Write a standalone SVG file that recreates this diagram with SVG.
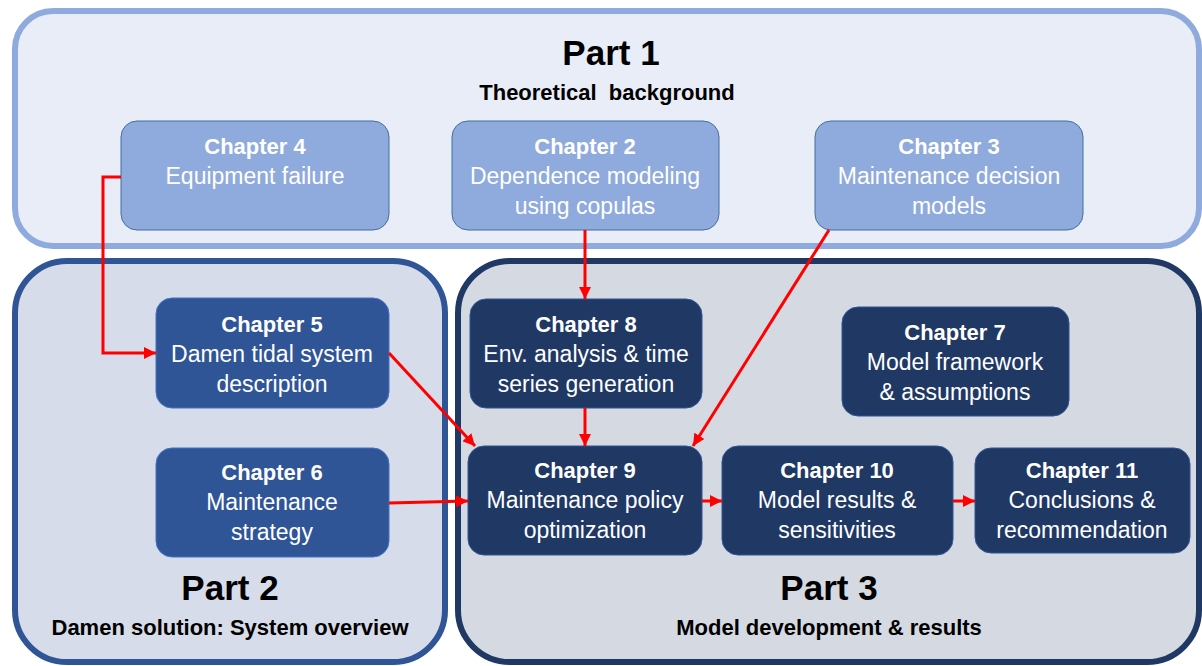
<svg xmlns="http://www.w3.org/2000/svg" width="1202" height="666" viewBox="0 0 1202 666">
<style>
text{font-family:"Liberation Sans",Arial,sans-serif;text-anchor:middle}
.t{font-weight:bold;font-size:22px;fill:#fff}
.d{font-size:23px;fill:#fff}
.pt{font-weight:bold;font-size:35px;fill:#000}
.ps{font-weight:bold;font-size:22px;fill:#000}
.l1{fill:#8FAADC;stroke:#41719C;stroke-width:1}
.l2{fill:#2F5597;stroke:#4472C4;stroke-width:1}
.l3{fill:#203864;stroke:#2F5597;stroke-width:1}
.c{fill:none;stroke:#FF0000;stroke-width:3;marker-end:url(#ah)}
</style>
<defs>
<marker id="ah" viewBox="0 0 10 10" refX="10" refY="5" markerWidth="4" markerHeight="4" orient="auto">
<path d="M0,0 L10,5 L0,10 z" fill="#FF0000"/>
</marker>
</defs>
<rect width="1202" height="666" fill="#fff"/>
<g id="part1">
<rect x="15" y="11" width="1184" height="235" rx="38" fill="#E9EDF7" stroke="#8FAADC" stroke-width="6"/>
<text class="pt" x="611" y="65">Part 1</text>
<text class="ps" x="607" y="100" font-size="21.5" xml:space="preserve">Theoretical  background</text>
</g>
<g id="part2">
<rect x="15" y="261" width="430" height="401" rx="52" fill="#D6DCE9" stroke="#2F5597" stroke-width="6"/>
<text class="pt" x="230" y="600">Part 2</text>
<text class="ps" x="230" y="635">Damen solution: System overview</text>
</g>
<g id="part3">
<rect x="458" y="261" width="741" height="401" rx="52" fill="#D5D9E2" stroke="#203864" stroke-width="6"/>
<text class="pt" x="829" y="600">Part 3</text>
<text class="ps" x="829" y="635">Model development &amp; results</text>
</g>
<g id="ch4">
<rect class="l1" x="121" y="121" width="268" height="109" rx="16"/>
<text class="t" x="255" y="154">Chapter 4</text>
<text class="d" x="255" y="184">Equipment failure</text>
</g>
<g id="ch2">
<rect class="l1" x="452" y="121" width="267" height="109" rx="16"/>
<text class="t" x="585" y="154">Chapter 2</text>
<text class="d" x="585" y="184">Dependence modeling</text>
<text class="d" x="585" y="214">using copulas</text>
</g>
<g id="ch3">
<rect class="l1" x="815" y="121" width="268" height="109" rx="16"/>
<text class="t" x="949" y="154">Chapter 3</text>
<text class="d" x="949" y="184">Maintenance decision</text>
<text class="d" x="949" y="214">models</text>
</g>
<g id="ch5">
<rect class="l2" x="156" y="298" width="233" height="110" rx="16"/>
<text class="t" x="272" y="332">Chapter 5</text>
<text class="d" x="272" y="362">Damen tidal system</text>
<text class="d" x="272" y="392">description</text>
</g>
<g id="ch6">
<rect class="l2" x="156" y="448" width="233" height="109" rx="16"/>
<text class="t" x="272" y="480">Chapter 6</text>
<text class="d" x="272" y="510">Maintenance</text>
<text class="d" x="272" y="540">strategy</text>
</g>
<g id="ch8">
<rect class="l3" x="470" y="299" width="232" height="109" rx="16"/>
<text class="t" x="586" y="332">Chapter 8</text>
<text class="d" x="586" y="362">Env. analysis &amp; time</text>
<text class="d" x="586" y="392">series generation</text>
</g>
<g id="ch7">
<rect class="l3" x="842" y="307" width="227" height="109" rx="16"/>
<text class="t" x="955" y="340">Chapter 7</text>
<text class="d" x="955" y="370">Model framework</text>
<text class="d" x="955" y="400">&amp; assumptions</text>
</g>
<g id="ch9">
<rect class="l3" x="468" y="446" width="234" height="109" rx="16"/>
<text class="t" x="585" y="478">Chapter 9</text>
<text class="d" x="585" y="508">Maintenance policy</text>
<text class="d" x="585" y="538">optimization</text>
</g>
<g id="ch10">
<rect class="l3" x="722" y="446" width="231" height="109" rx="16"/>
<text class="t" x="837" y="478">Chapter 10</text>
<text class="d" x="837" y="508">Model results &amp;</text>
<text class="d" x="837" y="538">sensitivities</text>
</g>
<g id="ch11">
<rect class="l3" x="975" y="448" width="215" height="105" rx="16"/>
<text class="t" x="1082" y="478">Chapter 11</text>
<text class="d" x="1082" y="508">Conclusions &amp;</text>
<text class="d" x="1082" y="538">recommendation</text>
</g>
<g id="connectors">
<path class="c" d="M121,177 H103 V353 H156"/>
<path class="c" d="M585,230 V299"/>
<path class="c" d="M829,230 L693,446"/>
<path class="c" d="M389,353 L475,446"/>
<path class="c" d="M585,408 V446"/>
<path class="c" d="M389,503 L468,501"/>
<path class="c" d="M702,501 H722"/>
<path class="c" d="M953,501 H975"/>
</g>
</svg>
